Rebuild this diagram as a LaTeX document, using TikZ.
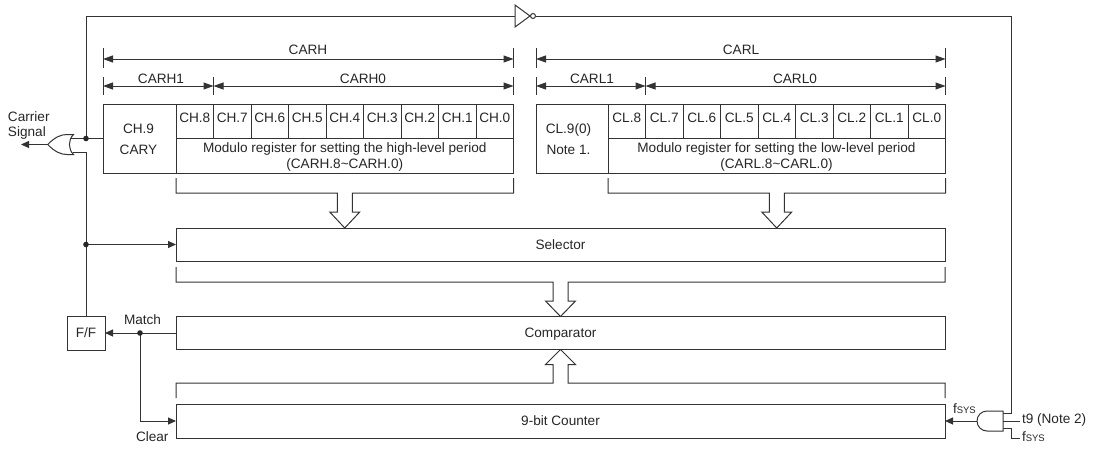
\documentclass[tikz,border=0pt]{standalone}
\usepackage{fontspec}
\setmainfont{Liberation Sans}
\usetikzlibrary{arrows.meta,calc}
\begin{document}
\begin{tikzpicture}[x=1pt,y=-1pt,line width=1pt,
  every node/.style={font=\fontsize{13.6}{16}\selectfont, text=black!85, inner sep=0pt, outer sep=0pt, text height=9.7pt, text depth=0pt},
  blk/.style={draw=black!80, minimum height=33pt},
  cellbox/.style={draw=black!80, minimum width=37.5pt, minimum height=34pt, text depth=7.4pt},
  dimline/.style={draw=black!80, {Triangle[length=10pt,width=7pt]}-{Triangle[length=10pt,width=7pt]}},
  sig/.style={draw=black!80, -{Triangle[length=8pt,width=7pt]}},
  wire/.style={draw=black!80},
  lbl/.style={anchor=base},
  lblw/.style={anchor=base west}
]
\useasboundingbox (0,0) rectangle (1094,450);

% ---------- CARH register ----------
\node[cellbox, minimum width=73pt, minimum height=69pt] (ch9) at (139.5,138.5) {};
\node[lbl] (ch9a) at (138.5,133.3) {CH.9};
\node[lbl] (ch9b) at (138.5,154.3) {CARY};
\foreach \i [count=\k from 0] in {8,7,6,5,4,3,2,1,0}
  \node[cellbox] (h\i) at ({194.75+37.5*\k},121) {CH.\i};
\node[cellbox, minimum width=337.5pt, minimum height=35pt] (hmod) at (344.75,155.5) {};
\node[lbl] (hmoda) at (344.75,152.7) {Modulo register for setting the high-level period};
\node[lbl] (hmodb) at (344.75,168.3) {(CARH.8\textasciitilde CARH.0)};

% ---------- CARL register ----------
\node[cellbox, minimum width=72pt, minimum height=69pt] (cl9) at (572,138.5) {};
\node[lbl] (cl9a) at (568.5,133.3) {CL.9(0)};
\node[lbl] (cl9b) at (568.5,154.3) {Note 1.};
\foreach \i [count=\k from 0] in {8,7,6,5,4,3,2,1,0}
  \node[cellbox] (l\i) at ({626.75+37.5*\k},121) {CL.\i};
\node[cellbox, minimum width=337.5pt, minimum height=35pt] (lmod) at (776.75,155.5) {};
\node[lbl] (lmoda) at (776.5,152.7) {Modulo register for setting the low-level period};
\node[lbl] (lmodb) at (776.5,168.3) {(CARL.8\textasciitilde CARL.0)};

% ---------- dimension lines ----------
\coordinate (tA1) at (0,48); \coordinate (tA2) at (0,68);
\coordinate (tB1) at (0,77); \coordinate (tB2) at (0,95);
\coordinate (yA) at (0,59); \coordinate (yB) at (0,86);
\draw[wire] (ch9.west |- tA1) -- (ch9.west |- tA2);
\draw[wire] (h0.east |- tA1) -- (h0.east |- tA2);
\draw[wire] (ch9.west |- tB1) -- (ch9.west |- tB2);
\draw[wire] (h8.east |- tB1) -- (h8.east |- tB2);
\draw[wire] (h0.east |- tB1) -- (h0.east |- tB2);
\draw[dimline] (ch9.west |- yA) -- (h0.east |- yA);
\draw[dimline] (ch9.west |- yB) -- (h8.east |- yB);
\draw[dimline] (h8.east |- yB) -- (h0.east |- yB);
\node[lbl] (lcarh) at (308,54.5) {CARH};
\node[lbl] (lcarh1) at (161,83) {CARH1};
\node[lbl] (lcarh0) at (363,83) {CARH0};

\draw[wire] (cl9.west |- tA1) -- (cl9.west |- tA2);
\draw[wire] (l0.east |- tA1) -- (l0.east |- tA2);
\draw[wire] (cl9.west |- tB1) -- (cl9.west |- tB2);
\draw[wire] (l8.east |- tB1) -- (l8.east |- tB2);
\draw[wire] (l0.east |- tB1) -- (l0.east |- tB2);
\draw[dimline] (cl9.west |- yA) -- (l0.east |- yA);
\draw[dimline] (cl9.west |- yB) -- (l8.east |- yB);
\draw[dimline] (l8.east |- yB) -- (l0.east |- yB);
\node[lbl] (lcarl) at (741,54.5) {CARL};
\node[lbl] (lcarl1) at (592,83) {CARL1};
\node[lbl] (lcarl0) at (795,83) {CARL0};

% ---------- blocks ----------
\node[blk, minimum width=769pt] (sel) at (560.5,244.5) {Selector};
\node[blk, minimum width=769pt] (cmp) at (560.5,333) {Comparator};
\node[blk, minimum width=769pt, minimum height=34pt] (cnt) at (560.5,421) {9-bit Counter};
\node[blk, minimum width=38pt, minimum height=34pt] (ff) at (86,333) {F/F};

% ---------- bus brackets with hollow arrows ----------
\draw[wire, line join=miter] (176,178) -- (176,193) -- (337.25,193) -- (337.25,212) -- (329.75,212)
  -- (344.75,228) -- (359.75,212) -- (352.25,212) -- (352.25,193) -- (513.5,193) -- (513.5,178);
\draw[wire, line join=miter] (608,178) -- (608,193) -- (769.25,193) -- (769.25,212) -- (761.75,212)
  -- (776.75,228) -- (791.75,212) -- (784.25,212) -- (784.25,193) -- (945.5,193) -- (945.5,178);
\draw[wire, line join=miter] (176,267) -- (176,282) -- (553,282) -- (553,301) -- (545.5,301)
  -- (560.5,316.5) -- (575.5,301) -- (568,301) -- (568,282) -- (945,282) -- (945,267);
\draw[wire, line join=miter] (176,398) -- (176,383) -- (553,383) -- (553,364.5) -- (545.5,364.5)
  -- (560.5,349.5) -- (575.5,364.5) -- (568,364.5) -- (568,383) -- (945,383) -- (945,398);

% ---------- gates ----------
% OR gate (output to the left)
\coordinate (ortip) at (47.7,144.5);
\coordinate (orA) at (71,138.5);
\coordinate (orB) at (72.5,152.5);
\coordinate (orout) at (21,144.5);
\draw[wire, fill=white] (ortip) .. controls (55,137) and (61,134.5) .. (67,134.5) -- (73.5,134.5)
  .. controls (68,140) and (68,149) .. (73.5,154.5) -- (67,154.5)
  .. controls (61,154.5) and (55,152) .. (ortip) -- cycle;
% inverter
\coordinate (invin) at (515,16);
\coordinate (invout) at (535.5,16);
\draw[wire] (515,5) -- (530,16) -- (515,27) -- cycle;
\draw[wire] (533,16) circle (2.5);
% AND gate (output to the left)
\draw[wire] (1003,411) -- (987,411) arc[start angle=270, end angle=90, radius=10] -- (1003,431) -- cycle;
\coordinate (andout) at (977,421);
\coordinate (andA) at (1003,413);
\coordinate (andB) at (1003,421);
\coordinate (andC) at (1003,428);

% ---------- connections ----------
\coordinate (j1) at (ff.north |- ch9.west);
\coordinate (j2) at (ff.north |- sel.west);
\coordinate (j3) at (140,333);
\coordinate (topL) at (86,16);
\coordinate (topR) at (1011,16);

\draw[wire] (ch9.west) -- (j1) -- (topL) -- (invin);
\draw[wire] (invout) -- (topR) -- (topR |- andA) -- (andA);
\draw[wire] (j1) -- (orA);
\draw[wire] (ff.north) -- (ff.north |- orB) -- (orB);
\draw[sig] (ortip) -- (orout);
\draw[sig] (j2) -- (sel.west);
\draw[sig] (cmp.west) -- (ff.east);
\draw[sig] (j3) -- (j3 |- cnt.west) -- (cnt.west);
\draw[sig] (andout) -- (cnt.east);
\coordinate (t9end) at (1020,421);
\coordinate (fsysend) at (1020,438);
\draw[wire] (andB) -- (t9end);
\draw[wire] (andC) -- (1011,428) -- (1011,438) -- (fsysend);

\fill[black!85] (j1) circle (2.8);
\fill[black!85] (j2) circle (2.8);
\fill[black!85] (j3) circle (2.8);

% ---------- labels ----------
\node[lblw] (carrier) at (8,121) {Carrier};
\node[lblw] (signal) at (8,136.7) {Signal};
\node[lblw] (match) at (124,324.3) {Match};
\node[lblw] (clear) at (136,441) {Clear};
\node[lblw] (fsys1) at (953,413) {f{\fontsize{9.5}{10}\selectfont SYS}};
\node[lblw] (t9) at (1022,423.3) {t9 (Note 2)};
\node[lblw] (fsys2) at (1022,441.7) {f{\fontsize{9.5}{10}\selectfont SYS}};
\end{tikzpicture}
\end{document}
